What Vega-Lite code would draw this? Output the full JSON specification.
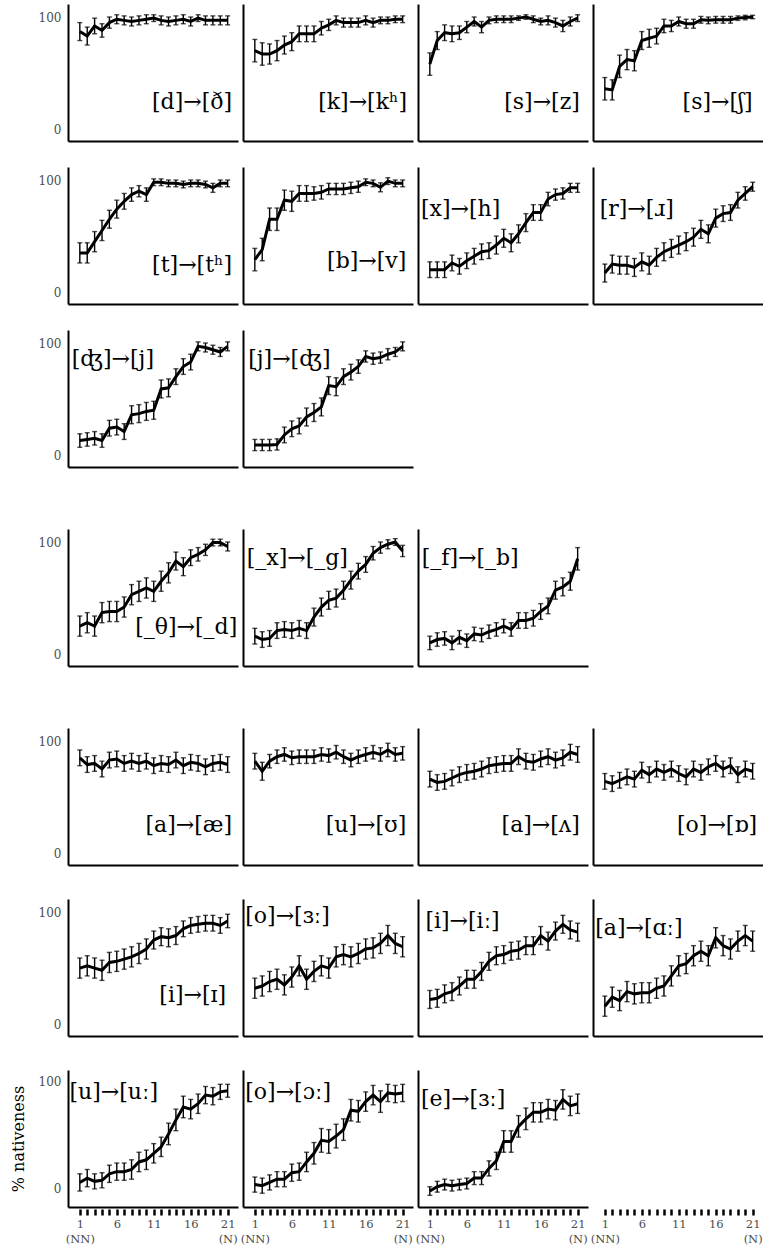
{
"$schema": "https://vega.github.io/schema/vega-lite/v6.json",
"padding": {"left": 10, "top": 4, "right": 0, "bottom": 0},
"background": "white",
"datasets": {
"d": [
{"p":1,"x":1,"y":87,"lo":79,"hi":95},{"p":1,"x":2,"y":83,"lo":75,"hi":91},{"p":1,"x":3,"y":92,"lo":85,"hi":99},{"p":1,"x":4,"y":88,"lo":82,"hi":94},{"p":1,"x":5,"y":95,"lo":90,"hi":100},{"p":1,"x":6,"y":98,"lo":94,"hi":102},{"p":1,"x":7,"y":97,"lo":93,"hi":101},{"p":1,"x":8,"y":96,"lo":92,"hi":100},{"p":1,"x":9,"y":97,"lo":93,"hi":101},{"p":1,"x":10,"y":98,"lo":94,"hi":102},{"p":1,"x":11,"y":99,"lo":96,"hi":102},{"p":1,"x":12,"y":97,"lo":93,"hi":101},{"p":1,"x":13,"y":96,"lo":92,"hi":100},{"p":1,"x":14,"y":97,"lo":93,"hi":101},{"p":1,"x":15,"y":98,"lo":94,"hi":102},{"p":1,"x":16,"y":96,"lo":92,"hi":100},{"p":1,"x":17,"y":99,"lo":96,"hi":102},{"p":1,"x":18,"y":97,"lo":93,"hi":101},{"p":1,"x":19,"y":97,"lo":93,"hi":101},{"p":1,"x":20,"y":97,"lo":93,"hi":101},{"p":1,"x":21,"y":97,"lo":93,"hi":101},
{"p":2,"x":1,"y":70,"lo":60,"hi":80},{"p":2,"x":2,"y":67,"lo":57,"hi":77},{"p":2,"x":3,"y":67,"lo":58,"hi":76},{"p":2,"x":4,"y":70,"lo":61,"hi":79},{"p":2,"x":5,"y":75,"lo":67,"hi":83},{"p":2,"x":6,"y":78,"lo":70,"hi":86},{"p":2,"x":7,"y":85,"lo":78,"hi":92},{"p":2,"x":8,"y":85,"lo":78,"hi":92},{"p":2,"x":9,"y":85,"lo":78,"hi":92},{"p":2,"x":10,"y":90,"lo":84,"hi":96},{"p":2,"x":11,"y":93,"lo":88,"hi":98},{"p":2,"x":12,"y":97,"lo":93,"hi":101},{"p":2,"x":13,"y":95,"lo":91,"hi":99},{"p":2,"x":14,"y":95,"lo":91,"hi":99},{"p":2,"x":15,"y":95,"lo":91,"hi":99},{"p":2,"x":16,"y":97,"lo":93,"hi":101},{"p":2,"x":17,"y":95,"lo":91,"hi":99},{"p":2,"x":18,"y":97,"lo":94,"hi":100},{"p":2,"x":19,"y":97,"lo":94,"hi":100},{"p":2,"x":20,"y":98,"lo":95,"hi":101},{"p":2,"x":21,"y":98,"lo":95,"hi":101},
{"p":3,"x":1,"y":58,"lo":48,"hi":68},{"p":3,"x":2,"y":79,"lo":71,"hi":87},{"p":3,"x":3,"y":86,"lo":79,"hi":93},{"p":3,"x":4,"y":85,"lo":78,"hi":92},{"p":3,"x":5,"y":86,"lo":80,"hi":92},{"p":3,"x":6,"y":91,"lo":86,"hi":96},{"p":3,"x":7,"y":96,"lo":92,"hi":100},{"p":3,"x":8,"y":91,"lo":86,"hi":96},{"p":3,"x":9,"y":97,"lo":94,"hi":100},{"p":3,"x":10,"y":98,"lo":95,"hi":101},{"p":3,"x":11,"y":98,"lo":95,"hi":101},{"p":3,"x":12,"y":98,"lo":95,"hi":101},{"p":3,"x":13,"y":99,"lo":97,"hi":101},{"p":3,"x":14,"y":100,"lo":98,"hi":102},{"p":3,"x":15,"y":98,"lo":95,"hi":101},{"p":3,"x":16,"y":96,"lo":93,"hi":99},{"p":3,"x":17,"y":97,"lo":93,"hi":101},{"p":3,"x":18,"y":95,"lo":91,"hi":99},{"p":3,"x":19,"y":92,"lo":87,"hi":97},{"p":3,"x":20,"y":96,"lo":92,"hi":100},{"p":3,"x":21,"y":99,"lo":96,"hi":102},
{"p":4,"x":1,"y":36,"lo":26,"hi":46},{"p":4,"x":2,"y":35,"lo":26,"hi":44},{"p":4,"x":3,"y":56,"lo":46,"hi":66},{"p":4,"x":4,"y":62,"lo":53,"hi":71},{"p":4,"x":5,"y":61,"lo":52,"hi":70},{"p":4,"x":6,"y":79,"lo":71,"hi":87},{"p":4,"x":7,"y":81,"lo":73,"hi":89},{"p":4,"x":8,"y":83,"lo":76,"hi":90},{"p":4,"x":9,"y":92,"lo":86,"hi":98},{"p":4,"x":10,"y":92,"lo":87,"hi":97},{"p":4,"x":11,"y":96,"lo":92,"hi":100},{"p":4,"x":12,"y":94,"lo":90,"hi":98},{"p":4,"x":13,"y":94,"lo":90,"hi":98},{"p":4,"x":14,"y":97.5,"lo":94.5,"hi":100.5},{"p":4,"x":15,"y":97,"lo":94,"hi":100},{"p":4,"x":16,"y":97.5,"lo":94.5,"hi":100.5},{"p":4,"x":17,"y":97.5,"lo":94.5,"hi":100.5},{"p":4,"x":18,"y":97.5,"lo":94.5,"hi":100.5},{"p":4,"x":19,"y":99,"lo":97,"hi":101},{"p":4,"x":20,"y":99.5,"lo":97.5,"hi":101.5},{"p":4,"x":21,"y":100,"lo":98.5,"hi":101.5},
{"p":5,"x":1,"y":35,"lo":26,"hi":44},{"p":5,"x":2,"y":35,"lo":26,"hi":44},{"p":5,"x":3,"y":45,"lo":36,"hi":54},{"p":5,"x":4,"y":55,"lo":46,"hi":64},{"p":5,"x":5,"y":65,"lo":57,"hi":73},{"p":5,"x":6,"y":74,"lo":66,"hi":82},{"p":5,"x":7,"y":81,"lo":74,"hi":88},{"p":5,"x":8,"y":87,"lo":81,"hi":93},{"p":5,"x":9,"y":90,"lo":85,"hi":95},{"p":5,"x":10,"y":87,"lo":81,"hi":93},{"p":5,"x":11,"y":98,"lo":95,"hi":101},{"p":5,"x":12,"y":98,"lo":95,"hi":101},{"p":5,"x":13,"y":97,"lo":94,"hi":100},{"p":5,"x":14,"y":97,"lo":94,"hi":100},{"p":5,"x":15,"y":96,"lo":93,"hi":99},{"p":5,"x":16,"y":97,"lo":94,"hi":100},{"p":5,"x":17,"y":97,"lo":94,"hi":100},{"p":5,"x":18,"y":96,"lo":93,"hi":99},{"p":5,"x":19,"y":93,"lo":89,"hi":97},{"p":5,"x":20,"y":97,"lo":94,"hi":100},{"p":5,"x":21,"y":97,"lo":94,"hi":100},
{"p":6,"x":1,"y":29,"lo":19,"hi":39},{"p":6,"x":2,"y":38,"lo":28,"hi":48},{"p":6,"x":3,"y":65,"lo":55,"hi":75},{"p":6,"x":4,"y":65,"lo":55,"hi":75},{"p":6,"x":5,"y":82,"lo":73,"hi":91},{"p":6,"x":6,"y":81,"lo":72,"hi":90},{"p":6,"x":7,"y":88,"lo":81,"hi":95},{"p":6,"x":8,"y":88,"lo":81,"hi":95},{"p":6,"x":9,"y":88,"lo":82,"hi":94},{"p":6,"x":10,"y":89,"lo":83,"hi":95},{"p":6,"x":11,"y":92,"lo":87,"hi":97},{"p":6,"x":12,"y":92,"lo":87,"hi":97},{"p":6,"x":13,"y":92,"lo":87,"hi":97},{"p":6,"x":14,"y":93,"lo":88,"hi":98},{"p":6,"x":15,"y":94,"lo":89,"hi":99},{"p":6,"x":16,"y":98,"lo":95,"hi":101},{"p":6,"x":17,"y":97,"lo":94,"hi":100},{"p":6,"x":18,"y":93.5,"lo":89.5,"hi":97.5},{"p":6,"x":19,"y":99,"lo":96,"hi":102},{"p":6,"x":20,"y":97,"lo":94,"hi":100},{"p":6,"x":21,"y":97,"lo":94,"hi":100},
{"p":7,"x":1,"y":20,"lo":13,"hi":27},{"p":7,"x":2,"y":20,"lo":13,"hi":27},{"p":7,"x":3,"y":20,"lo":13,"hi":27},{"p":7,"x":4,"y":26,"lo":19,"hi":33},{"p":7,"x":5,"y":23,"lo":16,"hi":30},{"p":7,"x":6,"y":28,"lo":21,"hi":35},{"p":7,"x":7,"y":32,"lo":25,"hi":39},{"p":7,"x":8,"y":36,"lo":29,"hi":43},{"p":7,"x":9,"y":37,"lo":30,"hi":44},{"p":7,"x":10,"y":42,"lo":34,"hi":50},{"p":7,"x":11,"y":48,"lo":40,"hi":56},{"p":7,"x":12,"y":44,"lo":36,"hi":52},{"p":7,"x":13,"y":52,"lo":44,"hi":60},{"p":7,"x":14,"y":62,"lo":54,"hi":70},{"p":7,"x":15,"y":71,"lo":64,"hi":78},{"p":7,"x":16,"y":71,"lo":64,"hi":78},{"p":7,"x":17,"y":83,"lo":77,"hi":89},{"p":7,"x":18,"y":87,"lo":82,"hi":92},{"p":7,"x":19,"y":88,"lo":83,"hi":93},{"p":7,"x":20,"y":93,"lo":89,"hi":97},{"p":7,"x":21,"y":93,"lo":89,"hi":97},
{"p":8,"x":1,"y":17,"lo":9,"hi":25},{"p":8,"x":2,"y":25,"lo":17,"hi":33},{"p":8,"x":3,"y":24,"lo":16,"hi":32},{"p":8,"x":4,"y":24,"lo":16,"hi":32},{"p":8,"x":5,"y":22,"lo":14,"hi":30},{"p":8,"x":6,"y":27,"lo":19,"hi":35},{"p":8,"x":7,"y":24,"lo":16,"hi":32},{"p":8,"x":8,"y":31,"lo":23,"hi":39},{"p":8,"x":9,"y":36,"lo":28,"hi":44},{"p":8,"x":10,"y":39,"lo":31,"hi":47},{"p":8,"x":11,"y":42,"lo":34,"hi":50},{"p":8,"x":12,"y":45,"lo":37,"hi":53},{"p":8,"x":13,"y":49,"lo":41,"hi":57},{"p":8,"x":14,"y":56,"lo":48,"hi":64},{"p":8,"x":15,"y":52,"lo":44,"hi":60},{"p":8,"x":16,"y":66,"lo":58,"hi":74},{"p":8,"x":17,"y":70,"lo":63,"hi":77},{"p":8,"x":18,"y":71,"lo":64,"hi":78},{"p":8,"x":19,"y":82,"lo":75,"hi":89},{"p":8,"x":20,"y":88,"lo":82,"hi":94},{"p":8,"x":21,"y":94,"lo":90,"hi":98},
{"p":9,"x":1,"y":13,"lo":7,"hi":19},{"p":9,"x":2,"y":14,"lo":8,"hi":20},{"p":9,"x":3,"y":15,"lo":9,"hi":21},{"p":9,"x":4,"y":13,"lo":7,"hi":19},{"p":9,"x":5,"y":24,"lo":17,"hi":31},{"p":9,"x":6,"y":25,"lo":18,"hi":32},{"p":9,"x":7,"y":21,"lo":14,"hi":28},{"p":9,"x":8,"y":36,"lo":28,"hi":44},{"p":9,"x":9,"y":37,"lo":29,"hi":45},{"p":9,"x":10,"y":39,"lo":31,"hi":47},{"p":9,"x":11,"y":40,"lo":32,"hi":48},{"p":9,"x":12,"y":59,"lo":51,"hi":67},{"p":9,"x":13,"y":60,"lo":52,"hi":68},{"p":9,"x":14,"y":70,"lo":63,"hi":77},{"p":9,"x":15,"y":79,"lo":72,"hi":86},{"p":9,"x":16,"y":83,"lo":76,"hi":90},{"p":9,"x":17,"y":97,"lo":93,"hi":101},{"p":9,"x":18,"y":96,"lo":92,"hi":100},{"p":9,"x":19,"y":94,"lo":90,"hi":98},{"p":9,"x":20,"y":92,"lo":88,"hi":96},{"p":9,"x":21,"y":97,"lo":93,"hi":101},
{"p":10,"x":1,"y":9,"lo":4,"hi":14},{"p":10,"x":2,"y":9,"lo":4,"hi":14},{"p":10,"x":3,"y":9,"lo":4,"hi":14},{"p":10,"x":4,"y":9.5,"lo":4.5,"hi":14.5},{"p":10,"x":5,"y":18,"lo":11,"hi":25},{"p":10,"x":6,"y":23.5,"lo":16.5,"hi":30.5},{"p":10,"x":7,"y":26,"lo":19,"hi":33},{"p":10,"x":8,"y":34,"lo":26,"hi":42},{"p":10,"x":9,"y":38,"lo":30,"hi":46},{"p":10,"x":10,"y":43,"lo":35,"hi":51},{"p":10,"x":11,"y":62,"lo":54,"hi":70},{"p":10,"x":12,"y":61,"lo":53,"hi":69},{"p":10,"x":13,"y":70,"lo":63,"hi":77},{"p":10,"x":14,"y":74,"lo":67,"hi":81},{"p":10,"x":15,"y":79,"lo":73,"hi":85},{"p":10,"x":16,"y":88,"lo":83,"hi":93},{"p":10,"x":17,"y":86,"lo":81,"hi":91},{"p":10,"x":18,"y":87,"lo":82,"hi":92},{"p":10,"x":19,"y":90,"lo":85,"hi":95},{"p":10,"x":20,"y":92,"lo":88,"hi":96},{"p":10,"x":21,"y":97,"lo":93,"hi":101},
{"p":11,"x":1,"y":25,"lo":16,"hi":34},{"p":11,"x":2,"y":28,"lo":19,"hi":37},{"p":11,"x":3,"y":25,"lo":16,"hi":34},{"p":11,"x":4,"y":37,"lo":28,"hi":46},{"p":11,"x":5,"y":38,"lo":29,"hi":47},{"p":11,"x":6,"y":38,"lo":29,"hi":47},{"p":11,"x":7,"y":42,"lo":33,"hi":51},{"p":11,"x":8,"y":53,"lo":44,"hi":62},{"p":11,"x":9,"y":56,"lo":47,"hi":65},{"p":11,"x":10,"y":59,"lo":50,"hi":68},{"p":11,"x":11,"y":56,"lo":47,"hi":65},{"p":11,"x":12,"y":65,"lo":56,"hi":74},{"p":11,"x":13,"y":72.5,"lo":63.5,"hi":81.5},{"p":11,"x":14,"y":83,"lo":75,"hi":91},{"p":11,"x":15,"y":78,"lo":70,"hi":86},{"p":11,"x":16,"y":86,"lo":79,"hi":93},{"p":11,"x":17,"y":89,"lo":83,"hi":95},{"p":11,"x":18,"y":93,"lo":88,"hi":98},{"p":11,"x":19,"y":99.5,"lo":96.5,"hi":102.5},{"p":11,"x":20,"y":99.5,"lo":96.5,"hi":102.5},{"p":11,"x":21,"y":96,"lo":92,"hi":100},
{"p":12,"x":1,"y":16,"lo":9,"hi":23},{"p":12,"x":2,"y":13,"lo":6,"hi":20},{"p":12,"x":3,"y":14,"lo":7,"hi":21},{"p":12,"x":4,"y":21,"lo":14,"hi":28},{"p":12,"x":5,"y":22,"lo":15,"hi":29},{"p":12,"x":6,"y":21,"lo":14,"hi":28},{"p":12,"x":7,"y":23,"lo":16,"hi":30},{"p":12,"x":8,"y":21,"lo":14,"hi":28},{"p":12,"x":9,"y":33,"lo":25,"hi":41},{"p":12,"x":10,"y":42,"lo":34,"hi":50},{"p":12,"x":11,"y":48,"lo":40,"hi":56},{"p":12,"x":12,"y":50,"lo":42,"hi":58},{"p":12,"x":13,"y":57,"lo":49,"hi":65},{"p":12,"x":14,"y":66,"lo":58,"hi":74},{"p":12,"x":15,"y":74,"lo":67,"hi":81},{"p":12,"x":16,"y":80,"lo":73,"hi":87},{"p":12,"x":17,"y":90,"lo":84,"hi":96},{"p":12,"x":18,"y":95,"lo":90,"hi":100},{"p":12,"x":19,"y":98,"lo":94,"hi":102},{"p":12,"x":20,"y":100,"lo":97,"hi":103},{"p":12,"x":21,"y":92,"lo":87,"hi":97},
{"p":13,"x":1,"y":10,"lo":4,"hi":16},{"p":13,"x":2,"y":13,"lo":7,"hi":19},{"p":13,"x":3,"y":14,"lo":8,"hi":20},{"p":13,"x":4,"y":10,"lo":4,"hi":16},{"p":13,"x":5,"y":15,"lo":9,"hi":21},{"p":13,"x":6,"y":12,"lo":6,"hi":18},{"p":13,"x":7,"y":18,"lo":12,"hi":24},{"p":13,"x":8,"y":17,"lo":11,"hi":23},{"p":13,"x":9,"y":20,"lo":14,"hi":26},{"p":13,"x":10,"y":22,"lo":16,"hi":28},{"p":13,"x":11,"y":25,"lo":19,"hi":31},{"p":13,"x":12,"y":22,"lo":16,"hi":28},{"p":13,"x":13,"y":30,"lo":23,"hi":37},{"p":13,"x":14,"y":30,"lo":23,"hi":37},{"p":13,"x":15,"y":32,"lo":25,"hi":39},{"p":13,"x":16,"y":38,"lo":31,"hi":45},{"p":13,"x":17,"y":43,"lo":36,"hi":50},{"p":13,"x":18,"y":57,"lo":49,"hi":65},{"p":13,"x":19,"y":60,"lo":52,"hi":68},{"p":13,"x":20,"y":65,"lo":57,"hi":73},{"p":13,"x":21,"y":85,"lo":75,"hi":95},
{"p":14,"x":1,"y":85,"lo":78,"hi":92},{"p":14,"x":2,"y":79,"lo":72,"hi":86},{"p":14,"x":3,"y":80,"lo":73,"hi":87},{"p":14,"x":4,"y":75,"lo":68,"hi":82},{"p":14,"x":5,"y":83,"lo":76,"hi":90},{"p":14,"x":6,"y":84,"lo":77,"hi":91},{"p":14,"x":7,"y":80,"lo":73,"hi":87},{"p":14,"x":8,"y":82,"lo":75,"hi":89},{"p":14,"x":9,"y":80,"lo":73,"hi":87},{"p":14,"x":10,"y":82,"lo":75,"hi":89},{"p":14,"x":11,"y":78,"lo":71,"hi":85},{"p":14,"x":12,"y":80,"lo":73,"hi":87},{"p":14,"x":13,"y":79,"lo":72,"hi":86},{"p":14,"x":14,"y":83,"lo":76,"hi":90},{"p":14,"x":15,"y":78,"lo":71,"hi":85},{"p":14,"x":16,"y":81,"lo":74,"hi":88},{"p":14,"x":17,"y":80,"lo":73,"hi":87},{"p":14,"x":18,"y":77,"lo":70,"hi":84},{"p":14,"x":19,"y":80,"lo":73,"hi":87},{"p":14,"x":20,"y":81,"lo":74,"hi":88},{"p":14,"x":21,"y":79,"lo":72,"hi":86},
{"p":15,"x":1,"y":82,"lo":75,"hi":89},{"p":15,"x":2,"y":73,"lo":65,"hi":81},{"p":15,"x":3,"y":82,"lo":76,"hi":88},{"p":15,"x":4,"y":86,"lo":80,"hi":92},{"p":15,"x":5,"y":88,"lo":82,"hi":94},{"p":15,"x":6,"y":85,"lo":79,"hi":91},{"p":15,"x":7,"y":86,"lo":80,"hi":92},{"p":15,"x":8,"y":86,"lo":80,"hi":92},{"p":15,"x":9,"y":86,"lo":80,"hi":92},{"p":15,"x":10,"y":88,"lo":82,"hi":94},{"p":15,"x":11,"y":87,"lo":81,"hi":93},{"p":15,"x":12,"y":90,"lo":84,"hi":96},{"p":15,"x":13,"y":86,"lo":80,"hi":92},{"p":15,"x":14,"y":83,"lo":77,"hi":89},{"p":15,"x":15,"y":86,"lo":80,"hi":92},{"p":15,"x":16,"y":88,"lo":82,"hi":94},{"p":15,"x":17,"y":90,"lo":84,"hi":96},{"p":15,"x":18,"y":88,"lo":82,"hi":94},{"p":15,"x":19,"y":92,"lo":86,"hi":98},{"p":15,"x":20,"y":88,"lo":82,"hi":94},{"p":15,"x":21,"y":89,"lo":83,"hi":95},
{"p":16,"x":1,"y":66,"lo":59,"hi":73},{"p":16,"x":2,"y":63,"lo":56,"hi":70},{"p":16,"x":3,"y":64,"lo":57,"hi":71},{"p":16,"x":4,"y":67,"lo":60,"hi":74},{"p":16,"x":5,"y":70,"lo":63,"hi":77},{"p":16,"x":6,"y":72,"lo":65,"hi":79},{"p":16,"x":7,"y":73,"lo":66,"hi":80},{"p":16,"x":8,"y":75,"lo":68,"hi":82},{"p":16,"x":9,"y":78,"lo":71,"hi":85},{"p":16,"x":10,"y":79,"lo":72,"hi":86},{"p":16,"x":11,"y":80,"lo":73,"hi":87},{"p":16,"x":12,"y":80,"lo":73,"hi":87},{"p":16,"x":13,"y":86,"lo":79,"hi":93},{"p":16,"x":14,"y":82,"lo":75,"hi":89},{"p":16,"x":15,"y":81,"lo":74,"hi":88},{"p":16,"x":16,"y":84,"lo":77,"hi":91},{"p":16,"x":17,"y":86,"lo":79,"hi":93},{"p":16,"x":18,"y":83,"lo":76,"hi":90},{"p":16,"x":19,"y":85,"lo":78,"hi":92},{"p":16,"x":20,"y":90,"lo":83,"hi":97},{"p":16,"x":21,"y":88,"lo":81,"hi":95},
{"p":17,"x":1,"y":64,"lo":57,"hi":71},{"p":17,"x":2,"y":62,"lo":55,"hi":69},{"p":17,"x":3,"y":65,"lo":58,"hi":72},{"p":17,"x":4,"y":68,"lo":61,"hi":75},{"p":17,"x":5,"y":66,"lo":59,"hi":73},{"p":17,"x":6,"y":74,"lo":67,"hi":81},{"p":17,"x":7,"y":70,"lo":63,"hi":77},{"p":17,"x":8,"y":75,"lo":68,"hi":82},{"p":17,"x":9,"y":72,"lo":65,"hi":79},{"p":17,"x":10,"y":75,"lo":68,"hi":82},{"p":17,"x":11,"y":71,"lo":64,"hi":78},{"p":17,"x":12,"y":68,"lo":61,"hi":75},{"p":17,"x":13,"y":75,"lo":68,"hi":82},{"p":17,"x":14,"y":72,"lo":65,"hi":79},{"p":17,"x":15,"y":77,"lo":70,"hi":84},{"p":17,"x":16,"y":80,"lo":73,"hi":87},{"p":17,"x":17,"y":75,"lo":68,"hi":82},{"p":17,"x":18,"y":78,"lo":71,"hi":85},{"p":17,"x":19,"y":70,"lo":63,"hi":77},{"p":17,"x":20,"y":75,"lo":68,"hi":82},{"p":17,"x":21,"y":73,"lo":66,"hi":80},
{"p":18,"x":1,"y":50,"lo":41,"hi":59},{"p":18,"x":2,"y":52,"lo":43,"hi":61},{"p":18,"x":3,"y":50,"lo":41,"hi":59},{"p":18,"x":4,"y":48,"lo":39,"hi":57},{"p":18,"x":5,"y":55,"lo":46,"hi":64},{"p":18,"x":6,"y":56,"lo":47,"hi":65},{"p":18,"x":7,"y":58,"lo":49,"hi":67},{"p":18,"x":8,"y":60,"lo":51,"hi":69},{"p":18,"x":9,"y":63,"lo":54,"hi":72},{"p":18,"x":10,"y":67,"lo":58,"hi":76},{"p":18,"x":11,"y":75,"lo":67,"hi":83},{"p":18,"x":12,"y":78,"lo":70,"hi":86},{"p":18,"x":13,"y":77,"lo":69,"hi":85},{"p":18,"x":14,"y":79,"lo":71,"hi":87},{"p":18,"x":15,"y":85,"lo":78,"hi":92},{"p":18,"x":16,"y":88,"lo":81,"hi":95},{"p":18,"x":17,"y":89,"lo":82,"hi":96},{"p":18,"x":18,"y":90,"lo":83,"hi":97},{"p":18,"x":19,"y":90,"lo":83,"hi":97},{"p":18,"x":20,"y":88,"lo":81,"hi":95},{"p":18,"x":21,"y":92,"lo":86,"hi":98},
{"p":19,"x":1,"y":32,"lo":23,"hi":41},{"p":19,"x":2,"y":34,"lo":25,"hi":43},{"p":19,"x":3,"y":38,"lo":29,"hi":47},{"p":19,"x":4,"y":40,"lo":31,"hi":49},{"p":19,"x":5,"y":35,"lo":26,"hi":44},{"p":19,"x":6,"y":42,"lo":33,"hi":51},{"p":19,"x":7,"y":52,"lo":43,"hi":61},{"p":19,"x":8,"y":40,"lo":31,"hi":49},{"p":19,"x":9,"y":47,"lo":38,"hi":56},{"p":19,"x":10,"y":52,"lo":43,"hi":61},{"p":19,"x":11,"y":50,"lo":41,"hi":59},{"p":19,"x":12,"y":60,"lo":51,"hi":69},{"p":19,"x":13,"y":62,"lo":53,"hi":71},{"p":19,"x":14,"y":60,"lo":51,"hi":69},{"p":19,"x":15,"y":63,"lo":54,"hi":72},{"p":19,"x":16,"y":67,"lo":58,"hi":76},{"p":19,"x":17,"y":68,"lo":59,"hi":77},{"p":19,"x":18,"y":72,"lo":63,"hi":81},{"p":19,"x":19,"y":79,"lo":70,"hi":88},{"p":19,"x":20,"y":72,"lo":63,"hi":81},{"p":19,"x":21,"y":69,"lo":60,"hi":78},
{"p":20,"x":1,"y":22,"lo":14,"hi":30},{"p":20,"x":2,"y":23,"lo":15,"hi":31},{"p":20,"x":3,"y":27,"lo":19,"hi":35},{"p":20,"x":4,"y":29,"lo":21,"hi":37},{"p":20,"x":5,"y":34,"lo":26,"hi":42},{"p":20,"x":6,"y":40,"lo":32,"hi":48},{"p":20,"x":7,"y":40,"lo":32,"hi":48},{"p":20,"x":8,"y":47,"lo":39,"hi":55},{"p":20,"x":9,"y":56,"lo":48,"hi":64},{"p":20,"x":10,"y":61,"lo":53,"hi":69},{"p":20,"x":11,"y":62,"lo":54,"hi":70},{"p":20,"x":12,"y":65,"lo":57,"hi":73},{"p":20,"x":13,"y":66,"lo":58,"hi":74},{"p":20,"x":14,"y":70,"lo":62,"hi":78},{"p":20,"x":15,"y":70,"lo":62,"hi":78},{"p":20,"x":16,"y":79,"lo":71,"hi":87},{"p":20,"x":17,"y":74,"lo":66,"hi":82},{"p":20,"x":18,"y":83,"lo":75,"hi":91},{"p":20,"x":19,"y":89,"lo":81,"hi":97},{"p":20,"x":20,"y":84,"lo":76,"hi":92},{"p":20,"x":21,"y":82,"lo":74,"hi":90},
{"p":21,"x":1,"y":16,"lo":7,"hi":25},{"p":21,"x":2,"y":24,"lo":15,"hi":33},{"p":21,"x":3,"y":21,"lo":12,"hi":30},{"p":21,"x":4,"y":29,"lo":20,"hi":38},{"p":21,"x":5,"y":27,"lo":18,"hi":36},{"p":21,"x":6,"y":28,"lo":19,"hi":37},{"p":21,"x":7,"y":28,"lo":19,"hi":37},{"p":21,"x":8,"y":32,"lo":23,"hi":41},{"p":21,"x":9,"y":34,"lo":25,"hi":43},{"p":21,"x":10,"y":43,"lo":34,"hi":52},{"p":21,"x":11,"y":52,"lo":43,"hi":61},{"p":21,"x":12,"y":54,"lo":45,"hi":63},{"p":21,"x":13,"y":61,"lo":52,"hi":70},{"p":21,"x":14,"y":65,"lo":56,"hi":74},{"p":21,"x":15,"y":61,"lo":52,"hi":70},{"p":21,"x":16,"y":77,"lo":68,"hi":86},{"p":21,"x":17,"y":70,"lo":61,"hi":79},{"p":21,"x":18,"y":67,"lo":58,"hi":76},{"p":21,"x":19,"y":74,"lo":65,"hi":83},{"p":21,"x":20,"y":79,"lo":70,"hi":88},{"p":21,"x":21,"y":74,"lo":65,"hi":83},
{"p":22,"x":1,"y":6,"lo":-2,"hi":14},{"p":22,"x":2,"y":10,"lo":2,"hi":18},{"p":22,"x":3,"y":7,"lo":0,"hi":14},{"p":22,"x":4,"y":8,"lo":1,"hi":15},{"p":22,"x":5,"y":14,"lo":6,"hi":22},{"p":22,"x":6,"y":16,"lo":8,"hi":24},{"p":22,"x":7,"y":16,"lo":8,"hi":24},{"p":22,"x":8,"y":18,"lo":9,"hi":27},{"p":22,"x":9,"y":25,"lo":16,"hi":34},{"p":22,"x":10,"y":27,"lo":18,"hi":36},{"p":22,"x":11,"y":33,"lo":24,"hi":42},{"p":22,"x":12,"y":39,"lo":30,"hi":48},{"p":22,"x":13,"y":51,"lo":41,"hi":61},{"p":22,"x":14,"y":64,"lo":54,"hi":74},{"p":22,"x":15,"y":76,"lo":66,"hi":86},{"p":22,"x":16,"y":74,"lo":65,"hi":83},{"p":22,"x":17,"y":79,"lo":70,"hi":88},{"p":22,"x":18,"y":87,"lo":79,"hi":95},{"p":22,"x":19,"y":86,"lo":78,"hi":94},{"p":22,"x":20,"y":90,"lo":83,"hi":97},{"p":22,"x":21,"y":91,"lo":85,"hi":97},
{"p":23,"x":1,"y":4,"lo":-3,"hi":11},{"p":23,"x":2,"y":3,"lo":-4,"hi":10},{"p":23,"x":3,"y":6,"lo":-1,"hi":13},{"p":23,"x":4,"y":9,"lo":2,"hi":16},{"p":23,"x":5,"y":9,"lo":2,"hi":16},{"p":23,"x":6,"y":15,"lo":7,"hi":23},{"p":23,"x":7,"y":16,"lo":8,"hi":24},{"p":23,"x":8,"y":25,"lo":16,"hi":34},{"p":23,"x":9,"y":33,"lo":23,"hi":43},{"p":23,"x":10,"y":45,"lo":34,"hi":56},{"p":23,"x":11,"y":44,"lo":33,"hi":55},{"p":23,"x":12,"y":49,"lo":38,"hi":60},{"p":23,"x":13,"y":55,"lo":45,"hi":65},{"p":23,"x":14,"y":73,"lo":63,"hi":83},{"p":23,"x":15,"y":72,"lo":62,"hi":82},{"p":23,"x":16,"y":81,"lo":72,"hi":90},{"p":23,"x":17,"y":87,"lo":78,"hi":96},{"p":23,"x":18,"y":81,"lo":71,"hi":91},{"p":23,"x":19,"y":89,"lo":81,"hi":97},{"p":23,"x":20,"y":88,"lo":80,"hi":96},{"p":23,"x":21,"y":89,"lo":81,"hi":97},
{"p":24,"x":1,"y":-2,"lo":-6,"hi":2},{"p":24,"x":2,"y":2,"lo":-3,"hi":7},{"p":24,"x":3,"y":4,"lo":-1,"hi":9},{"p":24,"x":4,"y":3,"lo":-2,"hi":8},{"p":24,"x":5,"y":4,"lo":-1,"hi":9},{"p":24,"x":6,"y":5,"lo":0,"hi":10},{"p":24,"x":7,"y":10,"lo":4,"hi":16},{"p":24,"x":8,"y":10,"lo":4,"hi":16},{"p":24,"x":9,"y":19,"lo":12,"hi":26},{"p":24,"x":10,"y":26,"lo":18,"hi":34},{"p":24,"x":11,"y":44,"lo":34,"hi":54},{"p":24,"x":12,"y":44,"lo":34,"hi":54},{"p":24,"x":13,"y":58,"lo":48,"hi":68},{"p":24,"x":14,"y":65,"lo":55,"hi":75},{"p":24,"x":15,"y":71,"lo":62,"hi":80},{"p":24,"x":16,"y":71,"lo":62,"hi":80},{"p":24,"x":17,"y":74,"lo":65,"hi":83},{"p":24,"x":18,"y":73,"lo":64,"hi":82},{"p":24,"x":19,"y":83,"lo":74,"hi":92},{"p":24,"x":20,"y":77,"lo":68,"hi":86},{"p":24,"x":21,"y":79,"lo":70,"hi":88}
],
"lab": [
{"p":1,"t":"[d]→[ð]","lx":21.6,"ly":24},
{"p":2,"t":"[k]→[kʰ]","lx":21.6,"ly":24},
{"p":3,"t":"[s]→[z]","lx":21.3,"ly":24},
{"p":4,"t":"[s]→[ʃ]","lx":21.0,"ly":24},
{"p":5,"t":"[t]→[tʰ]","lx":21.6,"ly":24},
{"p":6,"t":"[b]→[v]","lx":21.5,"ly":28},
{"p":7,"t":"[x]→[h]","lx":-0.2,"ly":74},
{"p":8,"t":"[r]→[ɹ]","lx":0.3,"ly":74},
{"p":9,"t":"[ʤ]→[j]","lx":-0.1,"ly":85.5},
{"p":10,"t":"[j]→[ʤ]","lx":0.1,"ly":85.5},
{"p":11,"t":"[_θ]→[_d]","lx":22.3,"ly":24.4},
{"p":12,"t":"[_x]→[_g]","lx":-0.1,"ly":86},
{"p":13,"t":"[_f]→[_b]","lx":-0.1,"ly":86},
{"p":14,"t":"[a]→[æ]","lx":21.6,"ly":25},
{"p":15,"t":"[u]→[ʊ]","lx":21.5,"ly":25},
{"p":16,"t":"[a]→[ʌ]","lx":21.3,"ly":25},
{"p":17,"t":"[o]→[ɒ]","lx":21.6,"ly":25},
{"p":18,"t":"[i]→[ɪ]","lx":20.8,"ly":26},
{"p":19,"t":"[o]→[ɜː]","lx":-0.3,"ly":96},
{"p":20,"t":"[i]→[iː]","lx":0.4,"ly":92},
{"p":21,"t":"[a]→[ɑː]","lx":-0.3,"ly":86},
{"p":22,"t":"[u]→[uː]","lx":-0.4,"ly":90},
{"p":23,"t":"[o]→[ɔː]","lx":-0.3,"ly":90},
{"p":24,"t":"[e]→[ɜː]","lx":-0.2,"ly":83.5}
]
},
"spacing": 62,
"vconcat": [
{"spacing": 26, "vconcat": [
{"spacing": 5, "hconcat": [
{"width":170,"height":137,"layer":[
{"data":{"name":"d"},"transform":[{"filter":"datum.p==1"}],"mark":{"type":"errorbar","color":"black","thickness":1.4,"ticks":{"size":5,"thickness":1.4}},"encoding":{"x":{"field":"x","type":"quantitative","scale":{"domain":[-0.6,22.4],"nice":false,"zero":false},"axis":{"labels":false,"title":null}},"y":{"field":"lo","type":"quantitative","scale":{"domain":[-10.6,111.6],"nice":false,"zero":false},"axis":{"values":[0,100],"labelPadding":7,"title":"% nativeness","titleOpacity":0,"titleFont":"DejaVu Serif","titleFontSize":16,"titleFontWeight":"normal","titleColor":"black","titlePadding":12}},"y2":{"field":"hi"}}},
{"data":{"name":"d"},"transform":[{"filter":"datum.p==1"}],"mark":{"type":"line","color":"black","strokeWidth":3},"encoding":{"x":{"field":"x","type":"quantitative"},"y":{"field":"y","type":"quantitative"}}},
{"data":{"name":"lab"},"transform":[{"filter":"datum.p==1"}],"mark":{"type":"text","align":"right","baseline":"middle","fontSize":22,"color":"black"},"encoding":{"x":{"field":"lx","type":"quantitative"},"y":{"field":"ly","type":"quantitative"},"text":{"field":"t"}}}]},
{"width":170,"height":137,"layer":[
{"data":{"name":"d"},"transform":[{"filter":"datum.p==2"}],"mark":{"type":"errorbar","color":"black","thickness":1.4,"ticks":{"size":5,"thickness":1.4}},"encoding":{"x":{"field":"x","type":"quantitative","scale":{"domain":[-0.6,22.4],"nice":false,"zero":false},"axis":{"labels":false,"title":null}},"y":{"field":"lo","type":"quantitative","scale":{"domain":[-10.6,111.6],"nice":false,"zero":false},"axis":{"labels":false,"title":null}},"y2":{"field":"hi"}}},
{"data":{"name":"d"},"transform":[{"filter":"datum.p==2"}],"mark":{"type":"line","color":"black","strokeWidth":3},"encoding":{"x":{"field":"x","type":"quantitative"},"y":{"field":"y","type":"quantitative"}}},
{"data":{"name":"lab"},"transform":[{"filter":"datum.p==2"}],"mark":{"type":"text","align":"right","baseline":"middle","fontSize":22,"color":"black"},"encoding":{"x":{"field":"lx","type":"quantitative"},"y":{"field":"ly","type":"quantitative"},"text":{"field":"t"}}}]},
{"width":170,"height":137,"layer":[
{"data":{"name":"d"},"transform":[{"filter":"datum.p==3"}],"mark":{"type":"errorbar","color":"black","thickness":1.4,"ticks":{"size":5,"thickness":1.4}},"encoding":{"x":{"field":"x","type":"quantitative","scale":{"domain":[-0.6,22.4],"nice":false,"zero":false},"axis":{"labels":false,"title":null}},"y":{"field":"lo","type":"quantitative","scale":{"domain":[-10.6,111.6],"nice":false,"zero":false},"axis":{"labels":false,"title":null}},"y2":{"field":"hi"}}},
{"data":{"name":"d"},"transform":[{"filter":"datum.p==3"}],"mark":{"type":"line","color":"black","strokeWidth":3},"encoding":{"x":{"field":"x","type":"quantitative"},"y":{"field":"y","type":"quantitative"}}},
{"data":{"name":"lab"},"transform":[{"filter":"datum.p==3"}],"mark":{"type":"text","align":"right","baseline":"middle","fontSize":22,"color":"black"},"encoding":{"x":{"field":"lx","type":"quantitative"},"y":{"field":"ly","type":"quantitative"},"text":{"field":"t"}}}]},
{"width":170,"height":137,"layer":[
{"data":{"name":"d"},"transform":[{"filter":"datum.p==4"}],"mark":{"type":"errorbar","color":"black","thickness":1.4,"ticks":{"size":5,"thickness":1.4}},"encoding":{"x":{"field":"x","type":"quantitative","scale":{"domain":[-0.6,22.4],"nice":false,"zero":false},"axis":{"labels":false,"title":null}},"y":{"field":"lo","type":"quantitative","scale":{"domain":[-10.6,111.6],"nice":false,"zero":false},"axis":{"labels":false,"title":null}},"y2":{"field":"hi"}}},
{"data":{"name":"d"},"transform":[{"filter":"datum.p==4"}],"mark":{"type":"line","color":"black","strokeWidth":3},"encoding":{"x":{"field":"x","type":"quantitative"},"y":{"field":"y","type":"quantitative"}}},
{"data":{"name":"lab"},"transform":[{"filter":"datum.p==4"}],"mark":{"type":"text","align":"right","baseline":"middle","fontSize":22,"color":"black"},"encoding":{"x":{"field":"lx","type":"quantitative"},"y":{"field":"ly","type":"quantitative"},"text":{"field":"t"}}}]}
]},
{"spacing": 5, "hconcat": [
{"width":170,"height":137,"layer":[
{"data":{"name":"d"},"transform":[{"filter":"datum.p==5"}],"mark":{"type":"errorbar","color":"black","thickness":1.4,"ticks":{"size":5,"thickness":1.4}},"encoding":{"x":{"field":"x","type":"quantitative","scale":{"domain":[-0.6,22.4],"nice":false,"zero":false},"axis":{"labels":false,"title":null}},"y":{"field":"lo","type":"quantitative","scale":{"domain":[-10.6,111.6],"nice":false,"zero":false},"axis":{"values":[0,100],"labelPadding":7,"title":"% nativeness","titleOpacity":0,"titleFont":"DejaVu Serif","titleFontSize":16,"titleFontWeight":"normal","titleColor":"black","titlePadding":12}},"y2":{"field":"hi"}}},
{"data":{"name":"d"},"transform":[{"filter":"datum.p==5"}],"mark":{"type":"line","color":"black","strokeWidth":3},"encoding":{"x":{"field":"x","type":"quantitative"},"y":{"field":"y","type":"quantitative"}}},
{"data":{"name":"lab"},"transform":[{"filter":"datum.p==5"}],"mark":{"type":"text","align":"right","baseline":"middle","fontSize":22,"color":"black"},"encoding":{"x":{"field":"lx","type":"quantitative"},"y":{"field":"ly","type":"quantitative"},"text":{"field":"t"}}}]},
{"width":170,"height":137,"layer":[
{"data":{"name":"d"},"transform":[{"filter":"datum.p==6"}],"mark":{"type":"errorbar","color":"black","thickness":1.4,"ticks":{"size":5,"thickness":1.4}},"encoding":{"x":{"field":"x","type":"quantitative","scale":{"domain":[-0.6,22.4],"nice":false,"zero":false},"axis":{"labels":false,"title":null}},"y":{"field":"lo","type":"quantitative","scale":{"domain":[-10.6,111.6],"nice":false,"zero":false},"axis":{"labels":false,"title":null}},"y2":{"field":"hi"}}},
{"data":{"name":"d"},"transform":[{"filter":"datum.p==6"}],"mark":{"type":"line","color":"black","strokeWidth":3},"encoding":{"x":{"field":"x","type":"quantitative"},"y":{"field":"y","type":"quantitative"}}},
{"data":{"name":"lab"},"transform":[{"filter":"datum.p==6"}],"mark":{"type":"text","align":"right","baseline":"middle","fontSize":22,"color":"black"},"encoding":{"x":{"field":"lx","type":"quantitative"},"y":{"field":"ly","type":"quantitative"},"text":{"field":"t"}}}]},
{"width":170,"height":137,"layer":[
{"data":{"name":"d"},"transform":[{"filter":"datum.p==7"}],"mark":{"type":"errorbar","color":"black","thickness":1.4,"ticks":{"size":5,"thickness":1.4}},"encoding":{"x":{"field":"x","type":"quantitative","scale":{"domain":[-0.6,22.4],"nice":false,"zero":false},"axis":{"labels":false,"title":null}},"y":{"field":"lo","type":"quantitative","scale":{"domain":[-10.6,111.6],"nice":false,"zero":false},"axis":{"labels":false,"title":null}},"y2":{"field":"hi"}}},
{"data":{"name":"d"},"transform":[{"filter":"datum.p==7"}],"mark":{"type":"line","color":"black","strokeWidth":3},"encoding":{"x":{"field":"x","type":"quantitative"},"y":{"field":"y","type":"quantitative"}}},
{"data":{"name":"lab"},"transform":[{"filter":"datum.p==7"}],"mark":{"type":"text","align":"left","baseline":"middle","fontSize":22,"color":"black"},"encoding":{"x":{"field":"lx","type":"quantitative"},"y":{"field":"ly","type":"quantitative"},"text":{"field":"t"}}}]},
{"width":170,"height":137,"layer":[
{"data":{"name":"d"},"transform":[{"filter":"datum.p==8"}],"mark":{"type":"errorbar","color":"black","thickness":1.4,"ticks":{"size":5,"thickness":1.4}},"encoding":{"x":{"field":"x","type":"quantitative","scale":{"domain":[-0.6,22.4],"nice":false,"zero":false},"axis":{"labels":false,"title":null}},"y":{"field":"lo","type":"quantitative","scale":{"domain":[-10.6,111.6],"nice":false,"zero":false},"axis":{"labels":false,"title":null}},"y2":{"field":"hi"}}},
{"data":{"name":"d"},"transform":[{"filter":"datum.p==8"}],"mark":{"type":"line","color":"black","strokeWidth":3},"encoding":{"x":{"field":"x","type":"quantitative"},"y":{"field":"y","type":"quantitative"}}},
{"data":{"name":"lab"},"transform":[{"filter":"datum.p==8"}],"mark":{"type":"text","align":"left","baseline":"middle","fontSize":22,"color":"black"},"encoding":{"x":{"field":"lx","type":"quantitative"},"y":{"field":"ly","type":"quantitative"},"text":{"field":"t"}}}]}
]},
{"spacing": 5, "hconcat": [
{"width":170,"height":137,"layer":[
{"data":{"name":"d"},"transform":[{"filter":"datum.p==9"}],"mark":{"type":"errorbar","color":"black","thickness":1.4,"ticks":{"size":5,"thickness":1.4}},"encoding":{"x":{"field":"x","type":"quantitative","scale":{"domain":[-0.6,22.4],"nice":false,"zero":false},"axis":{"labels":false,"title":null}},"y":{"field":"lo","type":"quantitative","scale":{"domain":[-10.6,111.6],"nice":false,"zero":false},"axis":{"values":[0,100],"labelPadding":7,"title":"% nativeness","titleOpacity":0,"titleFont":"DejaVu Serif","titleFontSize":16,"titleFontWeight":"normal","titleColor":"black","titlePadding":12}},"y2":{"field":"hi"}}},
{"data":{"name":"d"},"transform":[{"filter":"datum.p==9"}],"mark":{"type":"line","color":"black","strokeWidth":3},"encoding":{"x":{"field":"x","type":"quantitative"},"y":{"field":"y","type":"quantitative"}}},
{"data":{"name":"lab"},"transform":[{"filter":"datum.p==9"}],"mark":{"type":"text","align":"left","baseline":"middle","fontSize":22,"color":"black"},"encoding":{"x":{"field":"lx","type":"quantitative"},"y":{"field":"ly","type":"quantitative"},"text":{"field":"t"}}}]},
{"width":170,"height":137,"layer":[
{"data":{"name":"d"},"transform":[{"filter":"datum.p==10"}],"mark":{"type":"errorbar","color":"black","thickness":1.4,"ticks":{"size":5,"thickness":1.4}},"encoding":{"x":{"field":"x","type":"quantitative","scale":{"domain":[-0.6,22.4],"nice":false,"zero":false},"axis":{"labels":false,"title":null}},"y":{"field":"lo","type":"quantitative","scale":{"domain":[-10.6,111.6],"nice":false,"zero":false},"axis":{"labels":false,"title":null}},"y2":{"field":"hi"}}},
{"data":{"name":"d"},"transform":[{"filter":"datum.p==10"}],"mark":{"type":"line","color":"black","strokeWidth":3},"encoding":{"x":{"field":"x","type":"quantitative"},"y":{"field":"y","type":"quantitative"}}},
{"data":{"name":"lab"},"transform":[{"filter":"datum.p==10"}],"mark":{"type":"text","align":"left","baseline":"middle","fontSize":22,"color":"black"},"encoding":{"x":{"field":"lx","type":"quantitative"},"y":{"field":"ly","type":"quantitative"},"text":{"field":"t"}}}]}
]}
]},
{"spacing": 5, "hconcat": [
{"width":170,"height":137,"layer":[
{"data":{"name":"d"},"transform":[{"filter":"datum.p==11"}],"mark":{"type":"errorbar","color":"black","thickness":1.4,"ticks":{"size":5,"thickness":1.4}},"encoding":{"x":{"field":"x","type":"quantitative","scale":{"domain":[-0.6,22.4],"nice":false,"zero":false},"axis":{"labels":false,"title":null}},"y":{"field":"lo","type":"quantitative","scale":{"domain":[-10.6,111.6],"nice":false,"zero":false},"axis":{"values":[0,100],"labelPadding":7,"title":"% nativeness","titleOpacity":0,"titleFont":"DejaVu Serif","titleFontSize":16,"titleFontWeight":"normal","titleColor":"black","titlePadding":12}},"y2":{"field":"hi"}}},
{"data":{"name":"d"},"transform":[{"filter":"datum.p==11"}],"mark":{"type":"line","color":"black","strokeWidth":3},"encoding":{"x":{"field":"x","type":"quantitative"},"y":{"field":"y","type":"quantitative"}}},
{"data":{"name":"lab"},"transform":[{"filter":"datum.p==11"}],"mark":{"type":"text","align":"right","baseline":"middle","fontSize":22,"color":"black"},"encoding":{"x":{"field":"lx","type":"quantitative"},"y":{"field":"ly","type":"quantitative"},"text":{"field":"t"}}}]},
{"width":170,"height":137,"layer":[
{"data":{"name":"d"},"transform":[{"filter":"datum.p==12"}],"mark":{"type":"errorbar","color":"black","thickness":1.4,"ticks":{"size":5,"thickness":1.4}},"encoding":{"x":{"field":"x","type":"quantitative","scale":{"domain":[-0.6,22.4],"nice":false,"zero":false},"axis":{"labels":false,"title":null}},"y":{"field":"lo","type":"quantitative","scale":{"domain":[-10.6,111.6],"nice":false,"zero":false},"axis":{"labels":false,"title":null}},"y2":{"field":"hi"}}},
{"data":{"name":"d"},"transform":[{"filter":"datum.p==12"}],"mark":{"type":"line","color":"black","strokeWidth":3},"encoding":{"x":{"field":"x","type":"quantitative"},"y":{"field":"y","type":"quantitative"}}},
{"data":{"name":"lab"},"transform":[{"filter":"datum.p==12"}],"mark":{"type":"text","align":"left","baseline":"middle","fontSize":22,"color":"black"},"encoding":{"x":{"field":"lx","type":"quantitative"},"y":{"field":"ly","type":"quantitative"},"text":{"field":"t"}}}]},
{"width":170,"height":137,"layer":[
{"data":{"name":"d"},"transform":[{"filter":"datum.p==13"}],"mark":{"type":"errorbar","color":"black","thickness":1.4,"ticks":{"size":5,"thickness":1.4}},"encoding":{"x":{"field":"x","type":"quantitative","scale":{"domain":[-0.6,22.4],"nice":false,"zero":false},"axis":{"labels":false,"title":null}},"y":{"field":"lo","type":"quantitative","scale":{"domain":[-10.6,111.6],"nice":false,"zero":false},"axis":{"labels":false,"title":null}},"y2":{"field":"hi"}}},
{"data":{"name":"d"},"transform":[{"filter":"datum.p==13"}],"mark":{"type":"line","color":"black","strokeWidth":3},"encoding":{"x":{"field":"x","type":"quantitative"},"y":{"field":"y","type":"quantitative"}}},
{"data":{"name":"lab"},"transform":[{"filter":"datum.p==13"}],"mark":{"type":"text","align":"left","baseline":"middle","fontSize":22,"color":"black"},"encoding":{"x":{"field":"lx","type":"quantitative"},"y":{"field":"ly","type":"quantitative"},"text":{"field":"t"}}}]}
]},
{"spacing": 34, "vconcat": [
{"spacing": 5, "hconcat": [
{"width":170,"height":137,"layer":[
{"data":{"name":"d"},"transform":[{"filter":"datum.p==14"}],"mark":{"type":"errorbar","color":"black","thickness":1.4,"ticks":{"size":5,"thickness":1.4}},"encoding":{"x":{"field":"x","type":"quantitative","scale":{"domain":[-0.6,22.4],"nice":false,"zero":false},"axis":{"labels":false,"title":null}},"y":{"field":"lo","type":"quantitative","scale":{"domain":[-10.6,111.6],"nice":false,"zero":false},"axis":{"values":[0,100],"labelPadding":7,"title":"% nativeness","titleOpacity":0,"titleFont":"DejaVu Serif","titleFontSize":16,"titleFontWeight":"normal","titleColor":"black","titlePadding":12}},"y2":{"field":"hi"}}},
{"data":{"name":"d"},"transform":[{"filter":"datum.p==14"}],"mark":{"type":"line","color":"black","strokeWidth":3},"encoding":{"x":{"field":"x","type":"quantitative"},"y":{"field":"y","type":"quantitative"}}},
{"data":{"name":"lab"},"transform":[{"filter":"datum.p==14"}],"mark":{"type":"text","align":"right","baseline":"middle","fontSize":22,"color":"black"},"encoding":{"x":{"field":"lx","type":"quantitative"},"y":{"field":"ly","type":"quantitative"},"text":{"field":"t"}}}]},
{"width":170,"height":137,"layer":[
{"data":{"name":"d"},"transform":[{"filter":"datum.p==15"}],"mark":{"type":"errorbar","color":"black","thickness":1.4,"ticks":{"size":5,"thickness":1.4}},"encoding":{"x":{"field":"x","type":"quantitative","scale":{"domain":[-0.6,22.4],"nice":false,"zero":false},"axis":{"labels":false,"title":null}},"y":{"field":"lo","type":"quantitative","scale":{"domain":[-10.6,111.6],"nice":false,"zero":false},"axis":{"labels":false,"title":null}},"y2":{"field":"hi"}}},
{"data":{"name":"d"},"transform":[{"filter":"datum.p==15"}],"mark":{"type":"line","color":"black","strokeWidth":3},"encoding":{"x":{"field":"x","type":"quantitative"},"y":{"field":"y","type":"quantitative"}}},
{"data":{"name":"lab"},"transform":[{"filter":"datum.p==15"}],"mark":{"type":"text","align":"right","baseline":"middle","fontSize":22,"color":"black"},"encoding":{"x":{"field":"lx","type":"quantitative"},"y":{"field":"ly","type":"quantitative"},"text":{"field":"t"}}}]},
{"width":170,"height":137,"layer":[
{"data":{"name":"d"},"transform":[{"filter":"datum.p==16"}],"mark":{"type":"errorbar","color":"black","thickness":1.4,"ticks":{"size":5,"thickness":1.4}},"encoding":{"x":{"field":"x","type":"quantitative","scale":{"domain":[-0.6,22.4],"nice":false,"zero":false},"axis":{"labels":false,"title":null}},"y":{"field":"lo","type":"quantitative","scale":{"domain":[-10.6,111.6],"nice":false,"zero":false},"axis":{"labels":false,"title":null}},"y2":{"field":"hi"}}},
{"data":{"name":"d"},"transform":[{"filter":"datum.p==16"}],"mark":{"type":"line","color":"black","strokeWidth":3},"encoding":{"x":{"field":"x","type":"quantitative"},"y":{"field":"y","type":"quantitative"}}},
{"data":{"name":"lab"},"transform":[{"filter":"datum.p==16"}],"mark":{"type":"text","align":"right","baseline":"middle","fontSize":22,"color":"black"},"encoding":{"x":{"field":"lx","type":"quantitative"},"y":{"field":"ly","type":"quantitative"},"text":{"field":"t"}}}]},
{"width":170,"height":137,"layer":[
{"data":{"name":"d"},"transform":[{"filter":"datum.p==17"}],"mark":{"type":"errorbar","color":"black","thickness":1.4,"ticks":{"size":5,"thickness":1.4}},"encoding":{"x":{"field":"x","type":"quantitative","scale":{"domain":[-0.6,22.4],"nice":false,"zero":false},"axis":{"labels":false,"title":null}},"y":{"field":"lo","type":"quantitative","scale":{"domain":[-10.6,111.6],"nice":false,"zero":false},"axis":{"labels":false,"title":null}},"y2":{"field":"hi"}}},
{"data":{"name":"d"},"transform":[{"filter":"datum.p==17"}],"mark":{"type":"line","color":"black","strokeWidth":3},"encoding":{"x":{"field":"x","type":"quantitative"},"y":{"field":"y","type":"quantitative"}}},
{"data":{"name":"lab"},"transform":[{"filter":"datum.p==17"}],"mark":{"type":"text","align":"right","baseline":"middle","fontSize":22,"color":"black"},"encoding":{"x":{"field":"lx","type":"quantitative"},"y":{"field":"ly","type":"quantitative"},"text":{"field":"t"}}}]}
]},
{"spacing": 5, "hconcat": [
{"width":170,"height":137,"layer":[
{"data":{"name":"d"},"transform":[{"filter":"datum.p==18"}],"mark":{"type":"errorbar","color":"black","thickness":1.4,"ticks":{"size":5,"thickness":1.4}},"encoding":{"x":{"field":"x","type":"quantitative","scale":{"domain":[-0.6,22.4],"nice":false,"zero":false},"axis":{"labels":false,"title":null}},"y":{"field":"lo","type":"quantitative","scale":{"domain":[-10.6,111.6],"nice":false,"zero":false},"axis":{"values":[0,100],"labelPadding":7,"title":"% nativeness","titleOpacity":0,"titleFont":"DejaVu Serif","titleFontSize":16,"titleFontWeight":"normal","titleColor":"black","titlePadding":12}},"y2":{"field":"hi"}}},
{"data":{"name":"d"},"transform":[{"filter":"datum.p==18"}],"mark":{"type":"line","color":"black","strokeWidth":3},"encoding":{"x":{"field":"x","type":"quantitative"},"y":{"field":"y","type":"quantitative"}}},
{"data":{"name":"lab"},"transform":[{"filter":"datum.p==18"}],"mark":{"type":"text","align":"right","baseline":"middle","fontSize":22,"color":"black"},"encoding":{"x":{"field":"lx","type":"quantitative"},"y":{"field":"ly","type":"quantitative"},"text":{"field":"t"}}}]},
{"width":170,"height":137,"layer":[
{"data":{"name":"d"},"transform":[{"filter":"datum.p==19"}],"mark":{"type":"errorbar","color":"black","thickness":1.4,"ticks":{"size":5,"thickness":1.4}},"encoding":{"x":{"field":"x","type":"quantitative","scale":{"domain":[-0.6,22.4],"nice":false,"zero":false},"axis":{"labels":false,"title":null}},"y":{"field":"lo","type":"quantitative","scale":{"domain":[-10.6,111.6],"nice":false,"zero":false},"axis":{"labels":false,"title":null}},"y2":{"field":"hi"}}},
{"data":{"name":"d"},"transform":[{"filter":"datum.p==19"}],"mark":{"type":"line","color":"black","strokeWidth":3},"encoding":{"x":{"field":"x","type":"quantitative"},"y":{"field":"y","type":"quantitative"}}},
{"data":{"name":"lab"},"transform":[{"filter":"datum.p==19"}],"mark":{"type":"text","align":"left","baseline":"middle","fontSize":22,"color":"black"},"encoding":{"x":{"field":"lx","type":"quantitative"},"y":{"field":"ly","type":"quantitative"},"text":{"field":"t"}}}]},
{"width":170,"height":137,"layer":[
{"data":{"name":"d"},"transform":[{"filter":"datum.p==20"}],"mark":{"type":"errorbar","color":"black","thickness":1.4,"ticks":{"size":5,"thickness":1.4}},"encoding":{"x":{"field":"x","type":"quantitative","scale":{"domain":[-0.6,22.4],"nice":false,"zero":false},"axis":{"labels":false,"title":null}},"y":{"field":"lo","type":"quantitative","scale":{"domain":[-10.6,111.6],"nice":false,"zero":false},"axis":{"labels":false,"title":null}},"y2":{"field":"hi"}}},
{"data":{"name":"d"},"transform":[{"filter":"datum.p==20"}],"mark":{"type":"line","color":"black","strokeWidth":3},"encoding":{"x":{"field":"x","type":"quantitative"},"y":{"field":"y","type":"quantitative"}}},
{"data":{"name":"lab"},"transform":[{"filter":"datum.p==20"}],"mark":{"type":"text","align":"left","baseline":"middle","fontSize":22,"color":"black"},"encoding":{"x":{"field":"lx","type":"quantitative"},"y":{"field":"ly","type":"quantitative"},"text":{"field":"t"}}}]},
{"width":170,"height":137,"layer":[
{"data":{"name":"d"},"transform":[{"filter":"datum.p==21"}],"mark":{"type":"errorbar","color":"black","thickness":1.4,"ticks":{"size":5,"thickness":1.4}},"encoding":{"x":{"field":"x","type":"quantitative","scale":{"domain":[-0.6,22.4],"nice":false,"zero":false},"axis":{"labels":false,"title":null}},"y":{"field":"lo","type":"quantitative","scale":{"domain":[-10.6,111.6],"nice":false,"zero":false},"axis":{"labels":false,"title":null}},"y2":{"field":"hi"}}},
{"data":{"name":"d"},"transform":[{"filter":"datum.p==21"}],"mark":{"type":"line","color":"black","strokeWidth":3},"encoding":{"x":{"field":"x","type":"quantitative"},"y":{"field":"y","type":"quantitative"}}},
{"data":{"name":"lab"},"transform":[{"filter":"datum.p==21"}],"mark":{"type":"text","align":"left","baseline":"middle","fontSize":22,"color":"black"},"encoding":{"x":{"field":"lx","type":"quantitative"},"y":{"field":"ly","type":"quantitative"},"text":{"field":"t"}}}]}
]},
{"spacing": 2, "hconcat": [
{"width":170,"height":137,"resolve":{"axis":{"x":"independent"}},"layer":[
{"data":{"name":"d"},"transform":[{"filter":"datum.p==22"}],"mark":{"type":"errorbar","color":"black","thickness":1.4,"ticks":{"size":5,"thickness":1.4}},"encoding":{"x":{"field":"x","type":"quantitative","scale":{"domain":[-0.6,22.4],"nice":false,"zero":false},"axis":{"orient":"bottom","labels":false,"title":null}},"y":{"field":"lo","type":"quantitative","scale":{"domain":[-16.8,110.3],"nice":false,"zero":false},"axis":{"values":[0,100],"labelPadding":7,"title":"% nativeness","titleOpacity":1,"titleFont":"DejaVu Serif","titleFontSize":16,"titleFontWeight":"normal","titleColor":"black","titlePadding":12}},"y2":{"field":"hi"}}},
{"data":{"name":"d"},"transform":[{"filter":"datum.p==22"}],"mark":{"type":"line","color":"black","strokeWidth":3},"encoding":{"x":{"field":"x","type":"quantitative","axis":{"orient":"bottom","values":[1,2,3,4,5,6,7,8,9,10,11,12,13,14,15,16,17,18,19,20,21],"domain":false,"ticks":true,"tickSize":6,"tickWidth":2.5,"tickColor":"black","labelExpr":"datum.value == 1 ? ['1', '(NN)'] : datum.value == 21 ? ['21', '(N)'] : (datum.value % 5 == 1 ? datum.label : '')","labelFontSize":11.5,"labelLineHeight":15,"labelPadding":3,"labelOverlap":false,"labelFlush":false,"offset":2,"title":null}},"y":{"field":"y","type":"quantitative"}}},
{"data":{"name":"lab"},"transform":[{"filter":"datum.p==22"}],"mark":{"type":"text","align":"left","baseline":"middle","fontSize":22,"color":"black"},"encoding":{"x":{"field":"lx","type":"quantitative","axis":null},"y":{"field":"ly","type":"quantitative"},"text":{"field":"t"}}}]},
{"width":170,"height":137,"resolve":{"axis":{"x":"independent"}},"layer":[
{"data":{"name":"d"},"transform":[{"filter":"datum.p==23"}],"mark":{"type":"errorbar","color":"black","thickness":1.4,"ticks":{"size":5,"thickness":1.4}},"encoding":{"x":{"field":"x","type":"quantitative","scale":{"domain":[-0.6,22.4],"nice":false,"zero":false},"axis":{"orient":"bottom","labels":false,"title":null}},"y":{"field":"lo","type":"quantitative","scale":{"domain":[-16.8,110.3],"nice":false,"zero":false},"axis":{"labels":false,"title":null}},"y2":{"field":"hi"}}},
{"data":{"name":"d"},"transform":[{"filter":"datum.p==23"}],"mark":{"type":"line","color":"black","strokeWidth":3},"encoding":{"x":{"field":"x","type":"quantitative","axis":{"orient":"bottom","values":[1,2,3,4,5,6,7,8,9,10,11,12,13,14,15,16,17,18,19,20,21],"domain":false,"ticks":true,"tickSize":6,"tickWidth":2.5,"tickColor":"black","labelExpr":"datum.value == 1 ? ['1', '(NN)'] : datum.value == 21 ? ['21', '(N)'] : (datum.value % 5 == 1 ? datum.label : '')","labelFontSize":11.5,"labelLineHeight":15,"labelPadding":3,"labelOverlap":false,"labelFlush":false,"offset":2,"title":null}},"y":{"field":"y","type":"quantitative"}}},
{"data":{"name":"lab"},"transform":[{"filter":"datum.p==23"}],"mark":{"type":"text","align":"left","baseline":"middle","fontSize":22,"color":"black"},"encoding":{"x":{"field":"lx","type":"quantitative","axis":null},"y":{"field":"ly","type":"quantitative"},"text":{"field":"t"}}}]},
{"width":170,"height":137,"resolve":{"axis":{"x":"independent"}},"layer":[
{"data":{"name":"d"},"transform":[{"filter":"datum.p==24"}],"mark":{"type":"errorbar","color":"black","thickness":1.4,"ticks":{"size":5,"thickness":1.4}},"encoding":{"x":{"field":"x","type":"quantitative","scale":{"domain":[-0.6,22.4],"nice":false,"zero":false},"axis":{"orient":"bottom","labels":false,"title":null}},"y":{"field":"lo","type":"quantitative","scale":{"domain":[-16.8,110.3],"nice":false,"zero":false},"axis":{"labels":false,"title":null}},"y2":{"field":"hi"}}},
{"data":{"name":"d"},"transform":[{"filter":"datum.p==24"}],"mark":{"type":"line","color":"black","strokeWidth":3},"encoding":{"x":{"field":"x","type":"quantitative","axis":{"orient":"bottom","values":[1,2,3,4,5,6,7,8,9,10,11,12,13,14,15,16,17,18,19,20,21],"domain":false,"ticks":true,"tickSize":6,"tickWidth":2.5,"tickColor":"black","labelExpr":"datum.value == 1 ? ['1', '(NN)'] : datum.value == 21 ? ['21', '(N)'] : (datum.value % 5 == 1 ? datum.label : '')","labelFontSize":11.5,"labelLineHeight":15,"labelPadding":3,"labelOverlap":false,"labelFlush":false,"offset":2,"title":null}},"y":{"field":"y","type":"quantitative"}}},
{"data":{"name":"lab"},"transform":[{"filter":"datum.p==24"}],"mark":{"type":"text","align":"left","baseline":"middle","fontSize":22,"color":"black"},"encoding":{"x":{"field":"lx","type":"quantitative","axis":null},"y":{"field":"ly","type":"quantitative"},"text":{"field":"t"}}}]},
{"width":170,"height":137,"data":{"name":"d"},"transform":[{"filter":"datum.p==24"}],"mark":{"type":"point","opacity":0},"encoding":{"x":{"field":"x","type":"quantitative","scale":{"domain":[-0.6,22.4],"nice":false,"zero":false},"axis":{"orient":"bottom","values":[1,2,3,4,5,6,7,8,9,10,11,12,13,14,15,16,17,18,19,20,21],"domain":false,"ticks":true,"tickSize":6,"tickWidth":2.5,"tickColor":"black","labelExpr":"datum.value == 1 ? ['1', '(NN)'] : datum.value == 21 ? ['21', '(N)'] : (datum.value % 5 == 1 ? datum.label : '')","labelFontSize":11.5,"labelLineHeight":15,"labelPadding":3,"labelOverlap":false,"labelFlush":false,"offset":2,"title":null}},"y":{"field":"y","type":"quantitative","scale":{"domain":[-16.8,110.3],"nice":false,"zero":false},"axis":null}}}
]}
]}
],
"config": {
"view": {"stroke": null},
"axis": {"grid": false, "domainColor": "black", "domainWidth": 2, "ticks": false, "labelFont": "DejaVu Serif", "labelColor": "#4d4d4d", "labelFontSize": 12},
"text": {"font": "DejaVu Serif"}
}
}
